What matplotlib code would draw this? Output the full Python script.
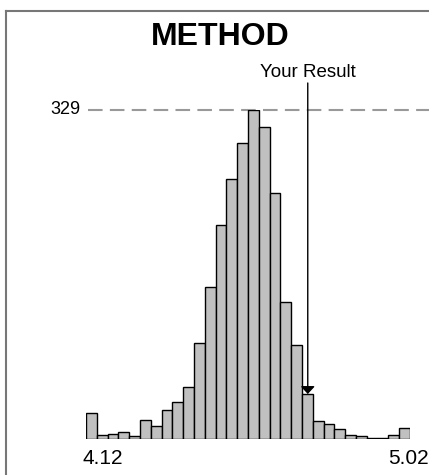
import matplotlib
matplotlib.use("Agg")
import matplotlib.pyplot as plt
import numpy as np
from matplotlib.lines import Line2D
from matplotlib.transforms import offset_copy

# ---- data ----
bin_start = 4.12
bin_end = 5.02
counts = [26, 4, 5, 7, 3, 19, 13, 29, 37, 52, 96, 152, 214, 260, 296,
          329, 312, 246, 137, 94, 45, 18, 15, 10, 4, 3, 1, 1, 4, 11]
your_result = 4.736
x_tick_labels = ["4.12", "5.02"]
title = "METHOD"
result_label = "Your Result"

W, H = 429, 475
fig = plt.figure(figsize=(W / 100, H / 100), dpi=100)
fig.patch.set_facecolor("white")

# axes placement in pixels
left_px, right_px = 86, 410
base_px, top_px = 439, 110
ax = fig.add_axes([left_px / W, (H - base_px) / H,
                   (right_px - left_px) / W, (base_px - top_px) / H])
n = len(counts)
edges = np.linspace(bin_start, bin_end, n + 1)
width = edges[1] - edges[0]
ymax = max(counts)
ax.bar(edges[:-1], counts, width=width, align="edge",
       color="#c0c0c0", edgecolor="black", linewidth=1.0)
ax.set_xlim(bin_start, bin_end)
ax.set_ylim(0, ymax)
ax.axis("off")

# dashed max line
ax.axhline(ymax, xmin=(88 - left_px) / (right_px - left_px),
           xmax=(W - left_px) / (right_px - left_px),
           color="#999999", linestyle=(0, (7, 3.5)), linewidth=1.5,
           clip_on=False, zorder=0)

narrow = ["Liberation Sans Narrow", "Liberation Sans", "DejaVu Sans"]
regular = ["Liberation Sans", "DejaVu Sans"]

ax.text(bin_start, ymax, str(ymax), ha="right", va="center", fontsize=13,
        family=narrow,
        transform=offset_copy(ax.transData, fig=fig, x=-6, y=0, units="dots"))

# your result arrow
bin_idx = int((your_result - bin_start) // width)
tip = counts[bin_idx]
ax.annotate("", xy=(your_result, tip), xytext=(your_result, 356),
            arrowprops=dict(arrowstyle="-|>,head_length=0.45,head_width=0.42",
                            color="black", lw=1.0,
                            mutation_scale=10, shrinkA=0, shrinkB=0),
            annotation_clip=False)
ax.text(your_result, 362, result_label, ha="center", va="baseline",
        fontsize=13.5, family=narrow, clip_on=False)

# x tick labels
ax.text(bin_start, 0, x_tick_labels[0], ha="center", va="top", fontsize=15,
        family=regular,
        transform=offset_copy(ax.transData, fig=fig, x=17, y=-10, units="dots"))
ax.text(bin_end, 0, x_tick_labels[1], ha="center", va="top", fontsize=15,
        family=regular,
        transform=offset_copy(ax.transData, fig=fig, x=-2, y=-10, units="dots"))

# title
fig.text(220 / W, 1 - 37 / H, title, ha="center", va="center", fontsize=23,
         fontweight="bold", family=regular)

# frame (left and top)
fig.add_artist(Line2D([6 / W, 6 / W], [0, 1 - 11 / H], color="#777777",
                      linewidth=1.5, transform=fig.transFigure))
fig.add_artist(Line2D([6 / W, 1], [1 - 11 / H, 1 - 11 / H], color="#777777",
                      linewidth=1.5, transform=fig.transFigure))

fig.savefig("out.png", dpi=100)
